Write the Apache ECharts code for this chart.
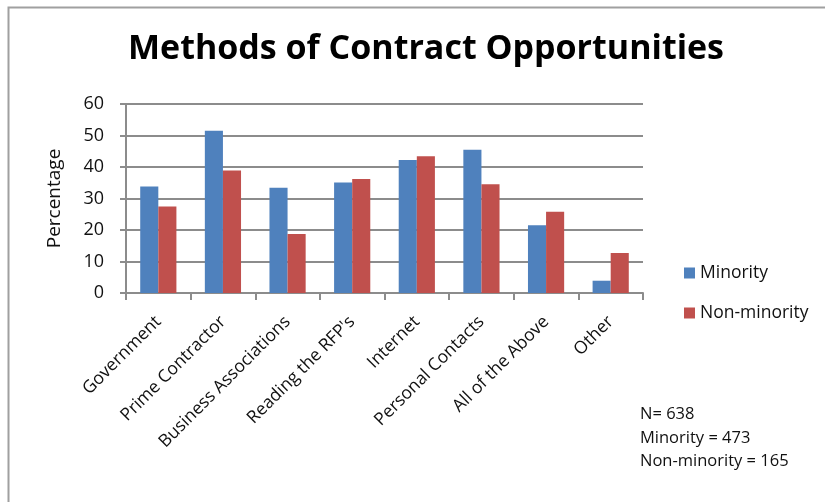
<!DOCTYPE html>
<html>
<head>
<meta charset="utf-8">
<script src="https://cdn.jsdelivr.net/npm/echarts@6/dist/echarts.min.js"></script>
<style>
  html, body { margin: 0; padding: 0; background: #fff; }
  #chart { width: 825px; height: 502px; }
</style>
</head>
<body>
<div id="chart"></div>
<script>
// Survey responses: how firms learn about contract opportunities
const categories = ['Government', 'Prime Contractor', 'Business Associations', "Reading the RFP's",
  'Internet', 'Personal Contacts', 'All of the Above', 'Other'];
const minority = [33.8, 51.5, 33.4, 35.1, 42.2, 45.5, 21.5, 3.9];
const nonMinority = [27.5, 38.9, 18.7, 36.2, 43.4, 34.5, 25.8, 12.7];
const yTicks = { min: 0, max: 60, interval: 10 };
const noteLines = ['N= 638', 'Minority = 473', 'Non-minority = 165'];

const FONT = '"Open Sans", "Liberation Sans", sans-serif';
const chart = echarts.init(document.getElementById('chart'), null, { renderer: 'canvas' });

chart.setOption({
  animation: false,
  backgroundColor: '#fff',
  title: {
    text: 'Methods of Contract Opportunities',
    left: 421, top: 27, textAlign: 'center',
    textStyle: { fontFamily: FONT, fontWeight: 'bold', fontSize: 34, color: '#000' }
  },
  graphic: [
    { type: 'rect', shape: { x: 8.5, y: 7.5, width: 830, height: 510 },
      style: { fill: null, stroke: '#a0a0a0', lineWidth: 2 }, silent: true },
    { type: 'text', left: 640, top: 403,
      style: { text: noteLines.join('\n'), font: '16.5px ' + FONT, fill: '#111', lineHeight: 23.5 } }
  ],
  legend: {
    orient: 'vertical', left: 679, top: 259, itemGap: 22,
    itemWidth: 11, itemHeight: 11, icon: 'rect',
    textStyle: { fontFamily: FONT, fontSize: 17.5, color: '#111' },
    data: ['Minority', 'Non-minority']
  },
  grid: { left: 126, right: 182, top: 104, bottom: 209, containLabel: false },
  xAxis: {
    type: 'category', data: categories,
    axisLine: { lineStyle: { color: '#8c8c8c', width: 2 } },
    axisTick: { show: true, length: 7, lineStyle: { color: '#8c8c8c', width: 2 } },
    axisLabel: { rotate: 45, margin: 26, interval: 0, fontFamily: FONT, fontSize: 17.5, color: '#111' }
  },
  yAxis: {
    type: 'value', min: yTicks.min, max: yTicks.max, interval: yTicks.interval,
    name: 'Percentage', nameLocation: 'middle', nameGap: 62, nameRotate: 90,
    nameTextStyle: { fontFamily: FONT, fontSize: 19, color: '#111' },
    axisLine: { show: true, lineStyle: { color: '#8c8c8c', width: 2 } },
    axisTick: { show: true, length: 6, lineStyle: { color: '#8c8c8c', width: 2 } },
    axisLabel: { margin: 22, fontFamily: FONT, fontSize: 18, color: '#111' },
    splitLine: { lineStyle: { color: '#8c8c8c', width: 2 } }
  },
  series: [
    { name: 'Minority', type: 'bar', data: minority, barGap: '0%', barCategoryGap: '44%',
      itemStyle: { color: '#4F81BD' } },
    { name: 'Non-minority', type: 'bar', data: nonMinority, barGap: '0%', barCategoryGap: '44%',
      itemStyle: { color: '#C0504D' } }
  ]
});
</script>
</body>
</html>
